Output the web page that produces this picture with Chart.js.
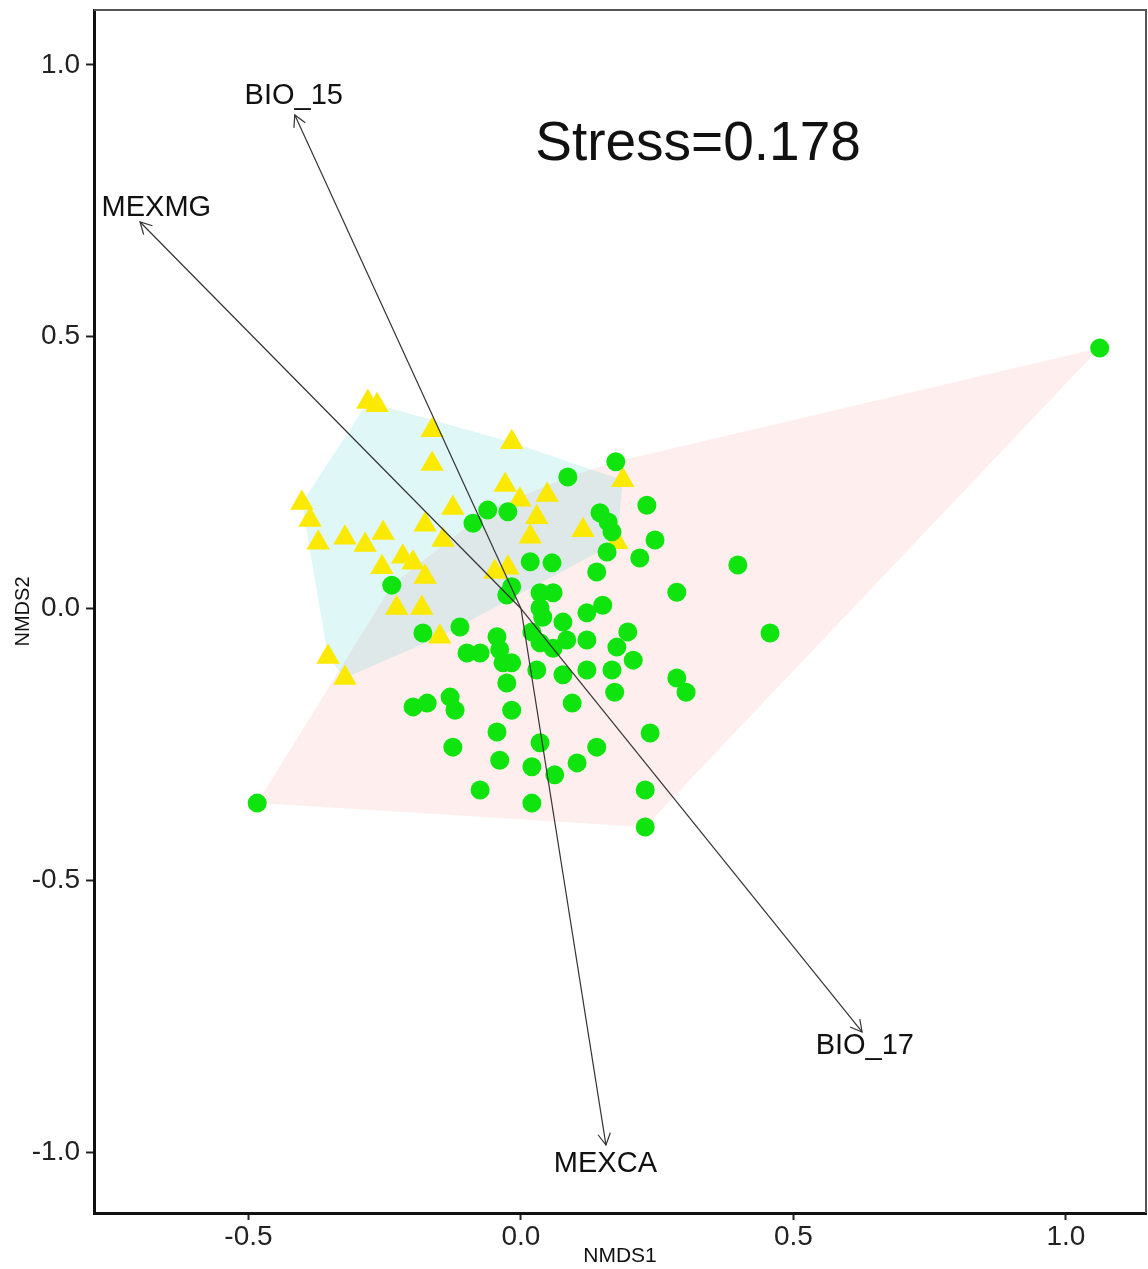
<!DOCTYPE html>
<html>
<head>
<meta charset="utf-8">
<script src="https://cdn.jsdelivr.net/npm/chart.js@4.4.0/dist/chart.umd.min.js"></script>
<style>
  html, body { margin: 0; padding: 0; background: #fff; overflow: hidden; }
  #wrap { width: 1148px; height: 1269px; position: relative; }
  #nmds { display: block; }
</style>
</head>
<body>
<div id="wrap"><canvas id="nmds"></canvas></div>
<script>
'use strict';

// site scores, yellow triangles
var triX = [-0.281, -0.264, -0.163, -0.017, -0.163, -0.029, -0.002, -0.402, -0.387, -0.372, -0.323,
            -0.286, -0.253, -0.176, -0.125, -0.143, -0.217, -0.198, -0.255, -0.176, -0.228, -0.182,
            -0.048, -0.024, -0.149, -0.354, -0.323, 0.187, 0.048, 0.029, 0.114, 0.017, 0.176];
var triY = [0.380, 0.374, 0.328, 0.306, 0.266, 0.227, 0.200, 0.194, 0.163, 0.121, 0.130,
            0.117, 0.139, 0.154, 0.185, 0.126, 0.095, 0.084, 0.076, 0.058, 0.001, 0.001,
            0.067, 0.075, -0.052, -0.089, -0.128, 0.236, 0.209, 0.168, 0.144, 0.132, 0.122];

// site scores, green circles
var circX = [1.062, -0.484, 0.174, 0.086, 0.231, -0.061, -0.024, -0.088, 0.145, 0.160, 0.167, 0.246,
             0.158, 0.218, 0.017, 0.057, 0.139, 0.398, -0.237, -0.017, -0.026, 0.035, 0.059, 0.286,
             0.035, 0.040, 0.077, 0.084, 0.121, 0.150, 0.121, 0.020, 0.035, 0.059, -0.112, -0.180,
             0.196, 0.176, 0.206, -0.044, -0.039, -0.099, -0.075, -0.033, -0.017, 0.029, 0.077, 0.121,
             0.167, -0.026, 0.172, 0.094, -0.130, -0.121, -0.017, -0.198, -0.172, 0.286, 0.303, 0.457,
             -0.125, -0.044, 0.035, 0.237, -0.039, 0.020, 0.062, 0.103, 0.139, -0.075, 0.020, 0.228, 0.228];
var circY = [0.479, -0.358, 0.270, 0.242, 0.190, 0.181, 0.178, 0.157, 0.176, 0.159, 0.141, 0.126,
             0.104, 0.093, 0.086, 0.084, 0.067, 0.080, 0.043, 0.040, 0.025, 0.029, 0.029, 0.030,
             0.001, -0.016, -0.025, -0.058, -0.008, 0.006, -0.058, -0.043, -0.063, -0.073, -0.034, -0.045,
             -0.043, -0.071, -0.095, -0.052, -0.076, -0.082, -0.082, -0.100, -0.100, -0.113, -0.122, -0.113,
             -0.113, -0.137, -0.154, -0.174, -0.163, -0.187, -0.187, -0.181, -0.174, -0.128, -0.154, -0.045,
             -0.255, -0.227, -0.247, -0.229, -0.279, -0.291, -0.306, -0.284, -0.255, -0.334, -0.358, -0.334, -0.402];

// fitted environmental vectors
var envNames = ['BIO_15', 'MEXMG', 'BIO_17', 'MEXCA'];
var envX = [-0.415, -0.699, 0.626, 0.156];
var envY = [0.908, 0.711, -0.779, -0.987];
var envLabelX = [-0.417, -0.669, 0.631, 0.155];
var envLabelY = [0.947, 0.742, -0.801, -1.017];

var xTicks = [-0.5, 0.0, 0.5, 1.0];
var yTicks = [-1.0, -0.5, 0.0, 0.5, 1.0];

var stressText = 'Stress=0.178';
var stressAt = [0.325, 0.862];

var FONT = '"Liberation Sans", Arial, sans-serif';

function toPoints(xs, ys) {
    return xs.map(function (x, i) { return { x: x, y: ys[i] }; });
}

// monotone chain, returns a closed ring
function convexHull(xs, ys) {
    var pts = toPoints(xs, ys).sort(function (a, b) { return a.x - b.x || a.y - b.y; });
    var cross = function (o, a, b) { return (a.x - o.x) * (b.y - o.y) - (a.y - o.y) * (b.x - o.x); };
    var lower = [], upper = [], i;
    for (i = 0; i < pts.length; i++) {
        while (lower.length >= 2 && cross(lower[lower.length - 2], lower[lower.length - 1], pts[i]) <= 0) lower.pop();
        lower.push(pts[i]);
    }
    for (i = pts.length - 1; i >= 0; i--) {
        while (upper.length >= 2 && cross(upper[upper.length - 2], upper[upper.length - 1], pts[i]) <= 0) upper.pop();
        upper.push(pts[i]);
    }
    lower.pop(); upper.pop();
    var ring = lower.concat(upper);
    ring.push(ring[0]);
    return ring;
}

var arrowSets = envNames.map(function (name, i) {
    return {
        label: name,
        data: [{ x: 0, y: 0 }, { x: envX[i], y: envY[i] }],
        showLine: true,
        borderColor: '#333',
        borderWidth: 1.2,
        pointRadius: 0,
        fill: false,
        order: 0
    };
});

var extras = {
    id: 'extras',
    afterDatasetsDraw: function (chart) {
        var ctx = chart.ctx, sx = chart.scales.x, sy = chart.scales.y;
        var ox = sx.getPixelForValue(0), oy = sy.getPixelForValue(0);
        ctx.save();
        // arrow heads
        ctx.strokeStyle = '#333';
        ctx.lineWidth = 1.2;
        envX.forEach(function (vx, i) {
            var tx = sx.getPixelForValue(vx), ty = sy.getPixelForValue(envY[i]);
            var a = Math.atan2(ty - oy, tx - ox), len = 13, spread = 0.5;
            ctx.beginPath();
            ctx.moveTo(tx - len * Math.cos(a - spread), ty - len * Math.sin(a - spread));
            ctx.lineTo(tx, ty);
            ctx.lineTo(tx - len * Math.cos(a + spread), ty - len * Math.sin(a + spread));
            ctx.stroke();
        });
        // vector labels
        ctx.fillStyle = '#111';
        ctx.textAlign = 'center';
        ctx.textBaseline = 'alphabetic';
        ctx.font = '29px ' + FONT;
        envNames.forEach(function (name, i) {
            ctx.fillText(name, sx.getPixelForValue(envLabelX[i]), sy.getPixelForValue(envLabelY[i]) + 0.358 * 29);
        });
        ctx.font = '55px ' + FONT;
        ctx.fillText(stressText, sx.getPixelForValue(stressAt[0]), sy.getPixelForValue(stressAt[1]) + 0.358 * 55);
        ctx.restore();
    },
    afterDraw: function (chart) {
        var ctx = chart.ctx, a = chart.chartArea;
        ctx.save();
        ctx.strokeStyle = '#555';
        ctx.lineWidth = 2;
        ctx.beginPath();
        ctx.moveTo(a.left, a.top);
        ctx.lineTo(a.right, a.top);
        ctx.lineTo(a.right, a.bottom);
        ctx.stroke();
        ctx.restore();
    }
};

var ctx = document.getElementById('nmds').getContext('2d');
var chart = new Chart(ctx, {
    type: 'scatter',
    data: {
        datasets: arrowSets.concat([
            {
                label: 'circles',
                data: toPoints(circX, circY),
                pointStyle: 'circle',
                pointRadius: 9.5,
                backgroundColor: '#0fe40f',
                borderWidth: 0,
                order: 1
            },
            {
                label: 'triangles',
                data: toPoints(triX, triY),
                pointStyle: 'triangle',
                pointRadius: 13.5,
                backgroundColor: '#fbe900',
                borderWidth: 0,
                order: 2
            },
            {
                label: 'triangle hull',
                data: convexHull(triX, triY),
                showLine: true,
                fill: 'shape',
                tension: 0,
                backgroundColor: 'rgba(0,191,196,0.12)',
                borderColor: 'rgba(0,0,0,0)',
                borderWidth: 0,
                pointRadius: 0,
                order: 3
            },
            {
                label: 'circle hull',
                data: convexHull(circX, circY),
                showLine: true,
                fill: 'shape',
                tension: 0,
                backgroundColor: 'rgba(248,118,109,0.12)',
                borderColor: 'rgba(0,0,0,0)',
                borderWidth: 0,
                pointRadius: 0,
                order: 4
            }
        ])
    },
    options: {
        responsive: true,
        maintainAspectRatio: false,
        animation: false,
        events: [],
        layout: { autoPadding: false, padding: { top: 10, right: 2, bottom: 0, left: 0 } },
        plugins: {
            legend: { display: false },
            tooltip: { enabled: false }
        },
        scales: {
            x: {
                type: 'linear',
                min: -0.7835,
                max: 1.147,
                afterBuildTicks: function (s) { s.ticks = xTicks.map(function (v) { return { value: v }; }); },
                afterFit: function (s) { s.height = 56; s.paddingLeft = 0; s.paddingRight = 0; },
                ticks: {
                    callback: function (v) { return Number(v).toFixed(1); },
                    font: { size: 28, family: FONT },
                    color: '#222',
                    padding: 0,
                    maxRotation: 0,
                    autoSkip: false
                },
                grid: { display: true, drawOnChartArea: false, drawTicks: true, tickLength: 7, tickWidth: 2, tickColor: '#222' },
                border: { display: true, color: '#111', width: 3 },
                title: { display: true, text: 'NMDS1', color: '#111', font: { size: 21, family: FONT }, padding: { top: 0, bottom: 0 } }
            },
            y: {
                type: 'linear',
                min: -1.112,
                max: 1.101,
                afterBuildTicks: function (s) { s.ticks = yTicks.map(function (v) { return { value: v }; }); },
                afterFit: function (s) { s.width = 94; s.paddingTop = 0; s.paddingBottom = 0; },
                ticks: {
                    callback: function (v) { return Number(v).toFixed(1); },
                    font: { size: 28, family: FONT },
                    color: '#222',
                    padding: 6,
                    autoSkip: false
                },
                grid: { display: true, drawOnChartArea: false, drawTicks: true, tickLength: 8, tickWidth: 2, tickColor: '#222' },
                border: { display: true, color: '#111', width: 3 },
                title: { display: true, text: 'NMDS2', color: '#111', font: { size: 20, family: FONT }, padding: { top: 11, bottom: 0 } }
            }
        }
    },
    plugins: [extras]
});
</script>
</body>
</html>
